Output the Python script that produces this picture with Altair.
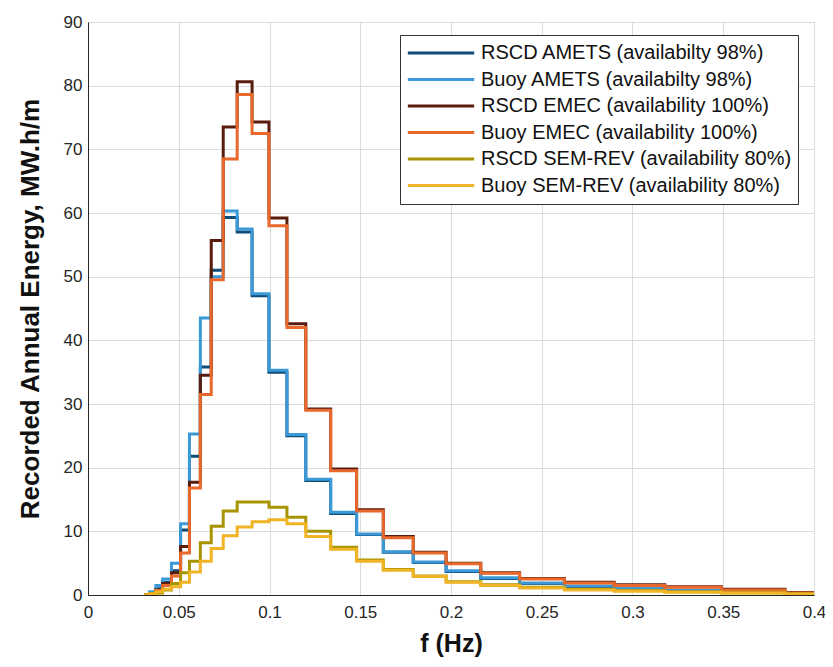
import altair as alt
import pandas as pd

# Bin edges (Hz), log-spaced frequency bins
edges = [0.031, 0.034, 0.0374, 0.0411, 0.046, 0.051, 0.0559, 0.0619, 0.0679, 0.0745,
         0.0822, 0.0904, 0.0997, 0.1096, 0.12, 0.1337, 0.148, 0.1627, 0.1792,
         0.1973, 0.2164, 0.2378, 0.2625, 0.2899, 0.3178, 0.349, 0.384, 0.4]

series_names = [
    "RSCD AMETS (availabilty 98%)",
    "Buoy AMETS (availabilty 98%)",
    "RSCD EMEC (availability 100%)",
    "Buoy EMEC (availability 100%)",
    "RSCD SEM-REV (availability 80%)",
    "Buoy SEM-REV (availability 80%)",
]
colors = ["#0E4D78", "#3C99D8", "#5A1C0C", "#E8692B", "#A89400", "#F1B425"]

rscd_amets = [0, 0.3, 1.0, 2.0, 3.8, 10.2, 21.8, 35.8, 51.0, 59.3, 57.0, 47.0, 35.0, 25.0,
              18.0, 12.8, 9.5, 6.7, 5.1, 3.7, 2.6, 1.8, 1.3, 0.95, 0.65, 0.4, 0.2]
buoy_amets = [0, 0.5, 1.5, 2.5, 5.0, 11.2, 25.3, 43.5, 50.0, 60.3, 57.5, 47.3, 35.3, 25.2,
              18.2, 13.0, 9.6, 6.8, 5.2, 3.8, 2.7, 1.9, 1.4, 1.0, 0.7, 0.45, 0.25]
rscd_emec = [0, 0.2, 0.8, 1.8, 3.5, 7.6, 17.7, 34.5, 55.7, 73.5, 80.6, 74.3, 59.2, 42.6,
             29.2, 19.8, 13.4, 9.2, 6.7, 5.0, 3.5, 2.6, 2.0, 1.6, 1.3, 0.9, 0.4]
buoy_emec = [0, 0.2, 0.7, 1.5, 3.0, 6.6, 16.8, 31.5, 49.5, 68.5, 78.6, 72.5, 58.0, 42.0,
             29.0, 19.5, 13.2, 9.0, 6.6, 4.9, 3.4, 2.5, 1.9, 1.5, 1.2, 0.8, 0.3]
rscd_semrev = [0, 0.1, 0.3, 0.8, 1.8, 3.5, 5.3, 8.2, 10.8, 13.2, 14.6, 14.6, 13.8, 12.2,
               10.0, 7.5, 5.5, 4.0, 3.0, 2.1, 1.6, 1.2, 0.9, 0.7, 0.5, 0.35, 0.2]
buoy_semrev = [0, 0.2, 0.5, 0.9, 1.3, 2.0, 3.6, 5.3, 7.3, 9.3, 10.7, 11.5, 11.8, 11.2,
               9.2, 7.2, 5.3, 3.9, 2.9, 2.0, 1.5, 1.1, 0.8, 0.6, 0.45, 0.3, 0.15]

all_vals = [rscd_amets, buoy_amets, rscd_emec, buoy_emec, rscd_semrev, buoy_semrev]

rows = []
for order, (name, vals) in enumerate(zip(series_names, all_vals)):
    ys = vals + [vals[-1]]
    for i, (f, v) in enumerate(zip(edges, ys)):
        rows.append({"series": name, "f": f, "E": v, "order": order, "i": i})
df = pd.DataFrame(rows)

font = "Liberation Sans"

chart = alt.Chart(df).mark_line(interpolate="step-after", strokeWidth=3, clip=True).encode(
    x=alt.X("f:Q", scale=alt.Scale(domain=[0, 0.4], nice=False),
            axis=alt.Axis(values=[0, 0.05, 0.1, 0.15, 0.2, 0.25, 0.3, 0.35, 0.4], format="~g",
                          title="f (Hz)", labelPadding=9, titlePadding=11, labelFlush=False,
                          titleFontSize=25)),
    y=alt.Y("E:Q", scale=alt.Scale(domain=[0, 90], nice=False),
            axis=alt.Axis(values=list(range(0, 91, 10)), title="Recorded Annual Energy, MW.h/m",
                          labelPadding=6, titlePadding=20, labelFlush=False, titleFontSize=26)),
    color=alt.Color("series:N", scale=alt.Scale(domain=series_names, range=colors),
                    sort=series_names,
                    legend=alt.Legend(title=None, orient="none", legendX=312, legendY=13,
                                      symbolType="stroke", symbolSize=4400, symbolStrokeWidth=3,
                                      clipHeight=24, labelFontSize=20, labelFont=font,
                                      labelColor="#111111", labelOffset=5,
                                      labelLimit=0, rowPadding=2.5, padding=6,
                                      strokeColor="#333333", fillColor="white")),
    order=alt.Order("i:Q"),
    detail="order:N",
).properties(
    width=726, height=573,
    autosize=alt.AutoSizeParams(type="none"),
    padding={"left": 80, "top": 14, "right": 11, "bottom": 64},
)

chart = chart.configure_view(stroke="#262626", strokeWidth=1).configure_axis(
    labelFont=font, titleFont=font, labelFontSize=17, titleFontWeight="bold",
    labelColor="#262626", titleColor="#111111", domainColor="#262626", tickColor="#262626",
    tickSize=0, gridColor="#DCDCDC", grid=True
)

chart.save("out.html", embed_options={"renderer": "svg", "actions": False})
